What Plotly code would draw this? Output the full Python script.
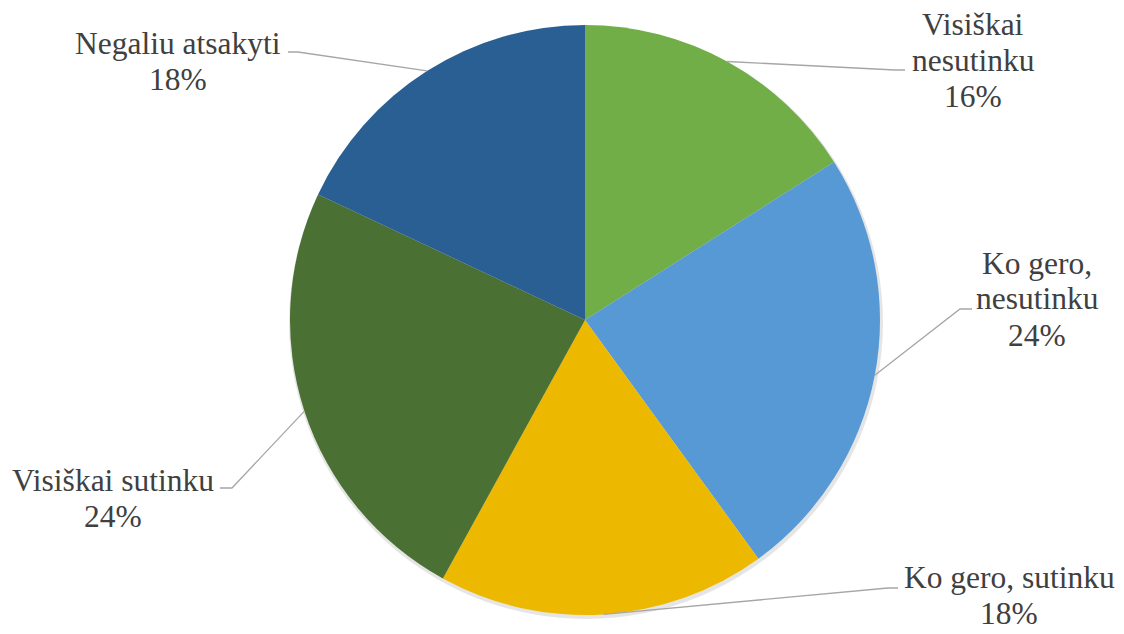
import numpy as np
import plotly.graph_objects as go

# ---- data ----
categories = ["Visiškai nesutinku", "Ko gero, nesutinku", "Ko gero, sutinku",
              "Visiškai sutinku", "Negaliu atsakyti"]
values = [16, 24, 18, 24, 18]
label_lines = [["Visiškai", "nesutinku"], ["Ko gero,", "nesutinku"], ["Ko gero, sutinku"],
               ["Visiškai sutinku"], ["Negaliu atsakyti"]]

# ---- styles / layout ----
colors = ["#72ae48", "#5699d5", "#edb900", "#4b7033", "#2a5f93"]
W, H = 1124, 634
CX, CY, R = 585, 320, 295           # pie centre and radius in pixels
FONT = "'Liberation Serif', 'Times New Roman', Times, serif"
FS = 31.5
LINE_H = 36
TEXT_COLOR = "#404040"
# label placement (pixels): centre x, first-line centre y, elbow point, end point
label_layout = [
    dict(x=973, y=25, elbow=(895, 70), end=(905, 70)),
    dict(x=1037, y=263, elbow=(960, 309), end=(972, 309)),
    dict(x=1009, y=577, elbow=(888, 588), end=(898, 588)),
    dict(x=113, y=480, elbow=(232, 488), end=(220, 488)),
    dict(x=178, y=43, elbow=(298, 52), end=(288, 52)),
]


def px(x):
    return x / W


def py(y):
    return 1 - y / H


fig = go.Figure(go.Pie(
    labels=categories, values=values, sort=False, direction="clockwise",
    rotation=0, textinfo="none", hoverinfo="label+percent",
    marker=dict(colors=colors, line=dict(width=0)),
    domain=dict(x=[px(CX - R), px(CX + R)], y=[py(CY + R), py(CY - R)]),
    showlegend=False,
))

total = sum(values)
pct = [round(100 * v / total) for v in values]
cum = np.cumsum([0] + values[:-1])
annotations = []
shapes = [dict(type="circle", xref="paper", yref="paper", layer="below",
               x0=px(CX - R - 1), x1=px(CX + R + 3), y0=py(CY + R + 4), y1=py(CY - R + 1),
               fillcolor="rgba(0,0,0,0.10)", line=dict(width=0))]
for i, v in enumerate(values):
    theta = 2 * np.pi * (cum[i] + v / 2) / total
    ex, ey = CX + R * np.sin(theta), CY - R * np.cos(theta)
    lay = label_layout[i]
    (bx, by), (tx, ty) = lay["elbow"], lay["end"]
    shapes.append(dict(type="path", xref="paper", yref="paper",
                       path=f"M {px(ex)} {py(ey)} L {px(bx)} {py(by)} L {px(tx)} {py(ty)}",
                       line=dict(color="#a6a6a6", width=1.3)))
    lines = label_lines[i] + [f"{pct[i]}%"]
    for j, t in enumerate(lines):
        annotations.append(dict(text=t, x=px(lay["x"]), y=py(lay["y"] + j * LINE_H),
                                xref="paper", yref="paper", xanchor="center", yanchor="middle",
                                showarrow=False,
                                font=dict(family=FONT, size=FS, color=TEXT_COLOR)))

fig.update_layout(
    width=W, height=H, margin=dict(l=0, r=0, t=0, b=0),
    paper_bgcolor="white", plot_bgcolor="white",
    font=dict(family=FONT),
    annotations=annotations, shapes=shapes,
)
fig.write_html("out.html", config={"displayModeBar": False},
               post_script=["document.body.style.margin='0';"])
